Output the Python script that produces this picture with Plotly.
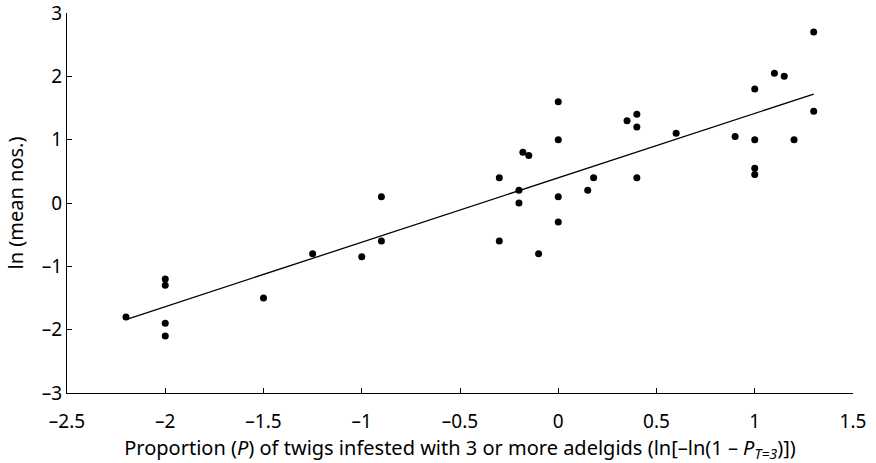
import plotly.graph_objects as go

# Data points: x = ln[-ln(1 - P_T=3)], y = ln(mean nos.)
x_vals = [-2.2, -2.0, -2.0, -2.0, -2.0, -1.5, -1.25, -1.0, -0.9, -0.9,
          -0.3, -0.3, -0.2, -0.2, -0.18, -0.15, -0.1, 0.0, 0.0, 0.0, 0.0,
          0.15, 0.18, 0.35, 0.4, 0.4, 0.4, 0.6, 0.9, 1.0, 1.0, 1.0, 1.0,
          1.1, 1.15, 1.2, 1.3, 1.3]
y_vals = [-1.8, -1.2, -1.3, -1.9, -2.1, -1.5, -0.8, -0.85, 0.1, -0.6,
          0.4, -0.6, 0.2, 0.0, 0.8, 0.75, -0.8, 1.6, 1.0, 0.1, -0.3,
          0.2, 0.4, 1.3, 1.4, 1.2, 0.4, 1.1, 1.05, 1.8, 1.0, 0.55, 0.45,
          2.05, 2.0, 1.0, 2.7, 1.45]

# Fitted regression line endpoints
fit_x = [-2.2, 1.3]
fit_y = [-1.84, 1.72]

x_ticks = [-2.5, -2, -1.5, -1, -0.5, 0, 0.5, 1, 1.5]
x_tick_labels = ["–2.5", "–2", "–1.5", "–1", "–0.5", "0", "0.5", "1", "1.5"]
y_ticks = [-3, -2, -1, 0, 1, 2, 3]
y_tick_labels = ["–3", "–2", "–1", "0", "1", "2", "3"]

FONT = "Noto Sans"
TICK_FS = 19
TITLE_FS = 20

fig = go.Figure()
fig.add_trace(go.Scatter(x=fit_x, y=fit_y, mode="lines",
                         line=dict(color="black", width=1.3),
                         showlegend=False, hoverinfo="skip"))
fig.add_trace(go.Scatter(x=x_vals, y=y_vals, mode="markers",
                         marker=dict(color="black", size=7),
                         showlegend=False))

axis_common = dict(showline=True, linecolor="black", linewidth=1.2,
                   ticks="inside", ticklen=5, tickwidth=1.2, tickcolor="black",
                   showgrid=False, zeroline=False, automargin=False,
                   ticklabeloverflow="allow",
                   tickfont=dict(family=FONT, size=TICK_FS, color="black"))

fig.update_xaxes(range=[-2.5, 1.5], tickvals=x_ticks, ticktext=x_tick_labels,
                 ticklabelstandoff=11,
                 title=dict(text="Proportion (<i>P</i>) of twigs infested with 3 or more adelgids "
                                 "(ln[–ln(1 – <i>P</i><sub><i>T=3</i></sub>)])",
                            font=dict(family=FONT, size=TITLE_FS, color="black"), standoff=10),
                 **axis_common)
fig.update_yaxes(range=[-3, 3], tickvals=y_ticks, ticktext=y_tick_labels,
                 title=dict(text="ln (mean nos.)",
                            font=dict(family=FONT, size=TITLE_FS, color="black"), standoff=12),
                 **axis_common)

fig.update_layout(width=876, height=463,
                  margin=dict(l=67, r=23, t=13, b=70),
                  plot_bgcolor="white", paper_bgcolor="white",
                  font=dict(family=FONT, color="black"))

fig.write_html("out.html",
               config={"displayModeBar": False},
               post_script="document.body.style.margin='0';document.body.style.overflow='hidden';")
